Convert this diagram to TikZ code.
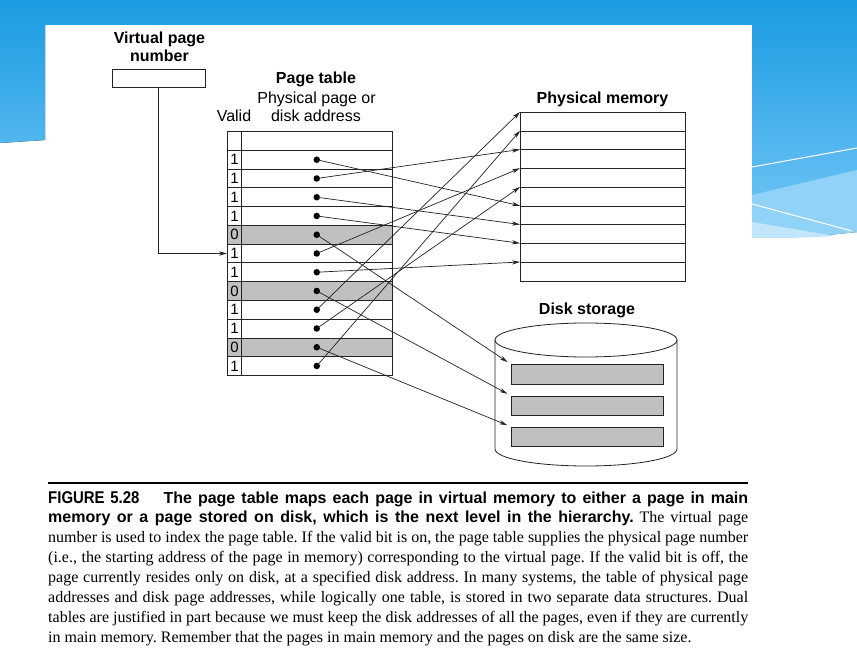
\documentclass[tikz,border=0pt]{standalone}
\usepackage{fontspec}
\setmainfont{Liberation Serif}
\setsansfont{Liberation Sans}
\newfontfamily\figfont[FakeStretch=0.88]{Liberation Sans}
\usetikzlibrary{positioning,arrows.meta,calc}
\definecolor{slideblue}{RGB}{26,155,226}
\definecolor{slidelight}{RGB}{118,200,246}
\definecolor{cellgray}{RGB}{192,192,194}
\definecolor{lineblack}{RGB}{35,35,35}

\begin{document}
\begin{tikzpicture}[
    x=1pt, y=-1pt,
    every node/.style={font=\sffamily\fontsize{16}{18.5}\selectfont, inner sep=0pt},
    heading/.style={font=\sffamily\bfseries\fontsize{16}{18.5}\selectfont, anchor=base},
    plain/.style={font=\sffamily\fontsize{16}{18.5}\selectfont, anchor=base},
    validcell/.style={rectangle, draw=lineblack, line width=0.7pt, minimum width=14.3pt, minimum height=18.75pt, anchor=north west, font=\sffamily\fontsize{15}{15}\selectfont},
    addrcell/.style={rectangle, draw=lineblack, line width=0.7pt, minimum width=150.2pt, minimum height=18.75pt, anchor=north west},
    memcell/.style={rectangle, draw=lineblack, line width=0.7pt, minimum width=164.5pt, minimum height=18.75pt, anchor=north west},
    slot/.style={rectangle, draw=lineblack, line width=0.8pt, fill=cellgray, minimum width=151.7pt, minimum height=19.5pt, anchor=north west},
    dot/.style={circle, fill=black, minimum size=6.5pt},
    arrow/.style={-{Stealth[length=8pt,width=4.2pt]}, line width=0.7pt, lineblack}
]
\useasboundingbox (0,0) rectangle (857,663);
\fill[white] (0,0) rectangle (857,663);

% Slide background
\fill[top color=slideblue, bottom color=slidelight] (0,0) -- (857,0) -- (857,232)
    .. controls (820,236) and (790,238) .. (752,238) -- (752,25) -- (45,25) -- (45,140)
    .. controls (30,141) and (15,142) .. (0,143) -- cycle;
\fill[slidelight!80!white] (752,195) -- (857,170) -- (857,232)
    .. controls (820,236) and (790,238) .. (752,238) -- cycle;
\fill[slidelight!45!white] (752,222) -- (835,236) .. controls (800,238) and (780,238) .. (752,238) -- cycle;
\draw[white, line width=1pt] (752,167) -- (857,148);
\draw[white, line width=1pt] (752,204) -- (852,231);

% Virtual page number
\node[heading] (vpntop) at (159.5,43.3) {Virtual page};
\node[heading] (vpnbot) at (159.5,61.7) {number};
\node[rectangle, draw=lineblack, line width=0.7pt, minimum width=93pt, minimum height=18pt] (vpn) at (158.5,78) {};

% Page table
\node[heading] (pttitle) at (316,84) {Page table};
\node[plain] (ptaddr) at (316.5,103.3) {Physical page or};
\node[plain] (ptdisk) at (316,121.7) {disk address};
\node[plain] (ptvalid) at (234,121.7) {Valid};
\node[validcell] (v0) at (227,131.25) {};
\node[addrcell] (a0) at (241.3,131.25) {};
\foreach \bit/\shade [count=\i] in {1/white,1/white,1/white,1/white,0/cellgray,1/white,1/white,0/cellgray,1/white,1/white,0/cellgray,1/white} {
    \node[validcell, fill=\shade] (v\i) at (227,{150+(\i-1)*18.75}) {\bit};
    \node[addrcell, fill=\shade] (a\i) at (241.3,{150+(\i-1)*18.75}) {};
    \node[dot] (d\i) at (a\i) {};
}

% Physical memory
\node[heading] (memtitle) at (602.5,103.3) {Physical memory};
\foreach \i in {1,...,9}
    \node[memcell] (m\i) at (520,{112+(\i-1)*18.75}) {};

% Disk storage
\node[heading] (disktitle) at (587,314.3) {Disk storage};
\draw[lineblack, line width=0.8pt] (495,340) -- (495,449) arc[start angle=180, end angle=0, x radius=91, y radius=17] -- (677,340);
\draw[lineblack, line width=0.8pt] (586,340) ellipse [x radius=91, y radius=17];
\node[slot] (s1) at (511,364.3) {};
\node[slot] (s2) at (511,395.7) {};
\node[slot] (s3) at (511,426.7) {};

% Connections
\draw[arrow] (vpn.south) |- (v6.west);
\foreach \src/\dst in {1/6,2/3,3/7,4/8,6/4,7/9,9/1,10/5,12/2}
    \draw[arrow] (d\src.center) -- (m\dst.north west);
\foreach \src/\dst in {5/1,8/2,11/3}
    \draw[arrow, shorten >=4pt] (d\src.center) -- (s\dst.north west);

% Caption
\draw[line width=1.3pt] (48,483) -- (748,483);
\node[anchor=north west, text width=700pt, align=justify, font=\rmfamily\fontsize{16}{19.9}\selectfont] (caption) at (48,491) {\noindent\hyphenpenalty=10000\frenchspacing
{\figfont\bfseries\fontsize{17}{19.9}\selectfont FIGURE 5.28}\hspace{1.5em}{\sffamily\bfseries The page table maps each page in virtual memory to either a page in main\linebreak
memory or a page stored on disk, which is the next level in the hierarchy.} The virtual page\linebreak
number is used to index the page table. If the valid bit is on, the page table supplies the physical page number\linebreak
(i.e., the starting address of the page in memory) corresponding to the virtual page. If the valid bit is off, the\linebreak
page currently resides only on disk, at a specified disk address. In many systems, the table of physical page\linebreak
addresses and disk page addresses, while logically one table, is stored in two separate data structures. Dual\linebreak
tables are justified in part because we must keep the disk addresses of all the pages, even if they are currently\linebreak
in main memory. Remember that the pages in main memory and the pages on disk are the same size.};

\end{tikzpicture}
\end{document}
